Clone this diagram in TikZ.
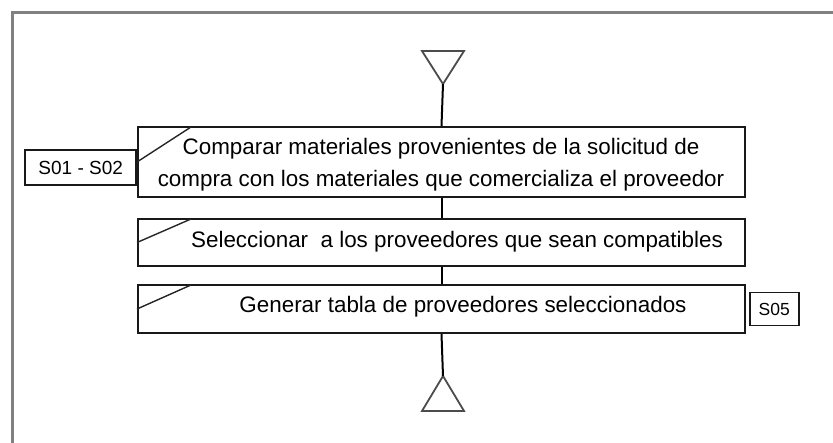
\documentclass[tikz,border=0pt]{standalone}
\usepackage{fontspec}
\setmainfont{Liberation Sans}
\tikzset{
  paso/.style={draw=black!90, line width=2pt, minimum width=607pt, minimum height=#1, inner sep=0pt},
  ref/.style={draw=black!90, line width=1.6pt, inner sep=0pt, font=\fontsize{19}{22}\selectfont},
  tri/.style={draw=black!70, line width=1.8pt, line join=miter},
  conn/.style={draw=black, line width=2pt},
  texto/.style={font=\fontsize{22.4}{32}\selectfont, align=center}
}
\begin{document}
\begin{tikzpicture}[x=1pt, y=-1pt]
            \useasboundingbox (0,0) rectangle (833,442);
            % 外框
            \draw[gray, line width=3pt] (12,445) -- (12,12) -- (840,12);

            % 起点和终点三角形
            \coordinate (ini) at (443,84);
            \coordinate (fin) at (443,376);
            \draw[tri] (ini) -- (422,51) -- (464,51) -- cycle;
            \draw[tri] (fin) -- (422,411) -- (464,411) -- cycle;

            % 步骤方框
            \node[paso=70pt] (b1) at (441.5,162) {};
            \node[paso=47pt] (b2) at (441.5,242.5) {};
            \node[paso=48pt] (b3) at (441.5,309) {};
            \foreach \b in {b1,b2,b3} {
                    \draw[black!85, line width=1.4pt] (\b.west) -- ([xshift=54pt,yshift=-1pt]\b.north west);
                }

            % 文字
            \node[texto] (t1) at (441,165) {Comparar materiales provenientes de la solicitud de\\compra con los materiales que comercializa el proveedor};
            \node[texto] (t2) at (457,242) {Seleccionar\ \ a los proveedores que sean compatibles};
            \node[texto] (t3) at (463,307) {Generar tabla de proveedores seleccionados};

            % 参考标签
            \node[ref, minimum width=111pt, minimum height=35pt, anchor=east] (r1) at (b1.west |- 0,167.5) {S01 - S02};
            \node[ref, minimum width=49pt, minimum height=33pt, anchor=west, font=\fontsize{17.5}{20}\selectfont] (r2) at ([xshift=3pt]b3.east |- 0,309) {S05};

            % 连线
            \draw[conn] (ini) -- (b1.north);
            \draw[conn] (b1.south) -- (b2.north);
            \draw[conn] (b2.south) -- (b3.north);
            \draw[conn] (b3.south) -- (fin);
        \end{tikzpicture}
\end{document}
